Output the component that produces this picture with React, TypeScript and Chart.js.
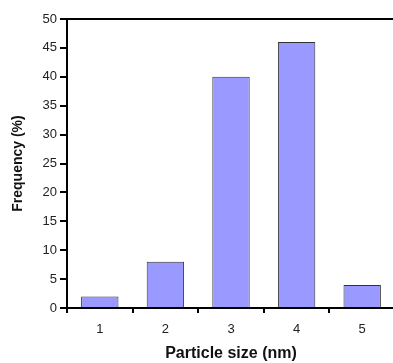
import React, { useEffect, useRef } from "react";
import { Chart, registerables } from "chart.js";

Chart.register(...registerables);

const categories = ["1", "2", "3", "4", "5"];
const frequency = [2, 8, 40, 46, 4];
const yTicks = [0, 5, 10, 15, 20, 25, 30, 35, 40, 45, 50];

const topBorder = {
  id: "topBorder",
  afterDraw(chart: any) {
    const { ctx, chartArea } = chart;
    ctx.save();
    ctx.strokeStyle = "#000";
    ctx.lineWidth = 2;
    ctx.beginPath();
    ctx.moveTo(chartArea.left, chartArea.top);
    ctx.lineTo(chartArea.right, chartArea.top);
    ctx.stroke();
    ctx.restore();
  },
};

export default function App() {
  const ref = useRef<HTMLCanvasElement>(null);
  useEffect(() => {
    if (!ref.current) return;
    const chart = new Chart(ref.current, {
      type: "bar",
      data: {
        labels: categories,
        datasets: [
          {
            data: frequency,
            backgroundColor: "#9999ff",
            borderColor: "#333333",
            borderWidth: 1,
            categoryPercentage: 1,
            barPercentage: 0.57,
          },
        ],
      },
      plugins: [topBorder],
      options: {
        animation: false,
        responsive: false,
        maintainAspectRatio: false,
        layout: { padding: { top: 19, right: 2, left: 0, bottom: 0 } },
        plugins: { legend: { display: false }, tooltip: { enabled: false } },
        scales: {
          x: {
            offset: true,
            grid: {
              offset: true,
              drawOnChartArea: false,
              drawTicks: true,
              tickLength: 5,
              color: "#000",
              lineWidth: 2,
            },
            border: { display: true, color: "#000", width: 2 },
            ticks: {
              color: "#222",
              font: { family: "Liberation Sans, Arial, sans-serif", size: 13 },
              padding: 9,
            },
            title: {
              display: true,
              text: "Particle size (nm)",
              color: "#111",
              font: { family: "Liberation Sans, Arial, sans-serif", size: 16, weight: "bold" },
              padding: { top: 0, bottom: 0 },
            },
            afterFit(scale: any) {
              scale.height = 55;
            },
          },
          y: {
            min: 0,
            max: 50,
            afterBuildTicks(scale: any) {
              scale.ticks = yTicks.map((v) => ({ value: v }));
            },
            grid: {
              drawOnChartArea: false,
              drawTicks: true,
              tickLength: 7,
              color: "#000",
              lineWidth: 2,
            },
            border: { display: true, color: "#000", width: 2 },
            ticks: {
              color: "#222",
              font: { family: "Liberation Sans, Arial, sans-serif", size: 13 },
              padding: 3,
            },
            title: {
              display: true,
              text: "Frequency (%)",
              color: "#111",
              font: { family: "Liberation Sans, Arial, sans-serif", size: 14, weight: "bold" },
              padding: { top: 10, bottom: 0 },
            },
            afterFit(scale: any) {
              scale.width = 67;
            },
          },
        },
      },
    });
    return () => chart.destroy();
  }, []);
  return (
    <div
      style={{
        position: "fixed",
        left: 0,
        top: 0,
        width: 393,
        height: 363,
        overflow: "hidden",
        background: "#fff",
      }}
    >
      <canvas ref={ref} width={397} height={363} style={{ display: "block", width: 397, height: 363 }} />
    </div>
  );
}
